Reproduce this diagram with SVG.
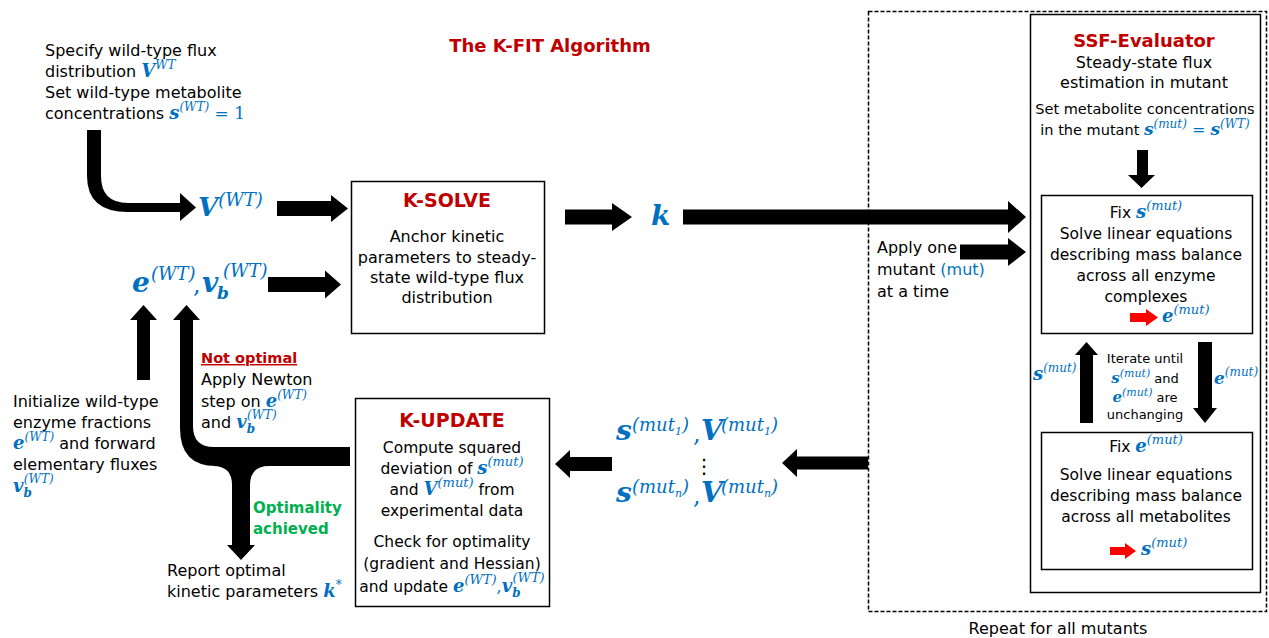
<svg xmlns="http://www.w3.org/2000/svg" width="1269" height="638" viewBox="0 0 1269 638" font-size="16">
<style>
.t{font-family:"DejaVu Sans",Verdana,sans-serif;fill:#000}
.c{text-anchor:middle}
.h{font-weight:bold;fill:#c00000}
.g{font-weight:bold;fill:#00b050}
.mb{font-family:"DejaVu Serif",serif;font-weight:bold;font-style:italic;fill:#0070c0}
.mi{font-family:"DejaVu Serif",serif;font-style:italic;font-weight:normal;fill:#0070c0}
.mr{font-family:"DejaVu Serif",serif;font-style:normal;font-weight:normal;fill:#0070c0}
.box{fill:#fff;stroke:#000;stroke-width:1.5}
.arr{fill:#000}
.red{fill:#ff0000}
</style>
<rect width="1269" height="638" fill="#fff"/>

<g id="title"><text class="t h c" x="550" y="52" font-size="18">The K-FIT Algorithm</text></g>

<g id="repeat-region">
<rect x="868.5" y="11.5" width="398" height="600" fill="none" stroke="#000" stroke-width="1.5" stroke-dasharray="4 2"/>
<text class="t c" x="1058" y="634">Repeat for all mutants</text>
</g>

<g id="ssf-evaluator">
<rect class="box" x="1030.5" y="14.5" width="230" height="578" stroke-width="2"/>
<text class="t h c" x="1144" y="47" font-size="18">SSF-Evaluator</text>
<text class="t c" x="1144" y="68">Steady-state flux</text>
<text class="t c" x="1144" y="88">estimation in mutant</text>
<text class="t c" x="1145" y="114" font-size="14.5">Set metabolite concentrations</text>
<text class="t c" x="1145" y="135" font-size="14.5">in the mutant <tspan class="mb" font-size="17">s</tspan><tspan class="mi" font-size="12" dy="-7">(mut)</tspan><tspan class="mr" font-size="16" dy="7"> = </tspan><tspan class="mb" font-size="17">s</tspan><tspan class="mi" font-size="12" dy="-7">(WT)</tspan></text>
</g>

<g id="fix-s">
<rect class="box" x="1041.5" y="195.5" width="211" height="138"/>
<text class="t c" x="1146" y="218" font-size="15.5">Fix <tspan class="mb" font-size="18">s</tspan><tspan class="mi" font-size="13" dy="-8">(mut)</tspan></text>
<text class="t c" x="1146" y="239" font-size="15.5">Solve linear equations</text>
<text class="t c" x="1146" y="260" font-size="15.5">describing mass balance</text>
<text class="t c" x="1146" y="281" font-size="15.5">across all enzyme</text>
<text class="t c" x="1146" y="302" font-size="15.5">complexes</text>
<polygon class="red" points="1130,313 1146,313 1146,309 1158,317.5 1146,326 1146,322 1130,322"/>
<text x="1162" y="322"><tspan class="mb" font-size="18">e</tspan><tspan class="mi" font-size="13" dy="-8">(mut)</tspan></text>
</g>

<g id="iterate">
<text class="t c" x="1145" y="363" font-size="13">Iterate until</text>
<text class="t c" x="1145" y="383" font-size="13"><tspan class="mb" font-size="15">s</tspan><tspan class="mi" font-size="11" dy="-6">(mut)</tspan><tspan dy="6"> and</tspan></text>
<text class="t c" x="1145" y="402" font-size="13"><tspan class="mb" font-size="15">e</tspan><tspan class="mi" font-size="11" dy="-6">(mut)</tspan><tspan dy="6"> are</tspan></text>
<text class="t c" x="1145" y="419" font-size="13">unchanging</text>
<text x="1033" y="380"><tspan class="mb" font-size="18">s</tspan><tspan class="mi" font-size="12" dy="-8">(mut)</tspan></text>
<text x="1214" y="384"><tspan class="mb" font-size="17">e</tspan><tspan class="mi" font-size="12" dy="-8">(mut)</tspan></text>
</g>

<g id="fix-e">
<rect class="box" x="1041.5" y="432.5" width="211" height="137"/>
<text class="t c" x="1146" y="452" font-size="15.5">Fix <tspan class="mb" font-size="18">e</tspan><tspan class="mi" font-size="13" dy="-8">(mut)</tspan></text>
<text class="t c" x="1146" y="480" font-size="15.5">Solve linear equations</text>
<text class="t c" x="1146" y="501" font-size="15.5">describing mass balance</text>
<text class="t c" x="1146" y="522" font-size="15.5">across all metabolites</text>
<polygon class="red" points="1110,547 1125,547 1125,543 1136,551 1125,559 1125,555 1110,555"/>
<text x="1141" y="555"><tspan class="mb" font-size="18">s</tspan><tspan class="mi" font-size="13" dy="-8">(mut)</tspan></text>
</g>

<g id="k-solve">
<rect class="box" x="351.5" y="181.5" width="193" height="152"/>
<text class="t h c" x="447" y="207" font-size="19">K-SOLVE</text>
<text class="t c" x="447" y="242">Anchor kinetic</text>
<text class="t c" x="447" y="263">parameters to steady-</text>
<text class="t c" x="447" y="283">state wild-type flux</text>
<text class="t c" x="447" y="303">distribution</text>
</g>

<g id="k-update">
<rect class="box" x="355.5" y="398.5" width="194" height="208"/>
<text class="t h c" x="452" y="427" font-size="19">K-UPDATE</text>
<text class="t c" x="452" y="453" font-size="15.5">Compute squared</text>
<text class="t c" x="452" y="474" font-size="15.5">deviation of <tspan class="mb" font-size="18">s</tspan><tspan class="mi" font-size="13" dy="-8">(mut)</tspan></text>
<text class="t c" x="452" y="495" font-size="15.5">and <tspan class="mb" font-size="18">V</tspan><tspan class="mi" font-size="13" dy="-8">(mut)</tspan><tspan dy="8"> from</tspan></text>
<text class="t c" x="452" y="516" font-size="15.5">experimental data</text>
<text class="t c" x="452" y="547" font-size="15.5">Check for optimality</text>
<text class="t c" x="452" y="569" font-size="15.5">(gradient and Hessian)</text>
<text class="t c" x="452" y="592" font-size="15.5">and update <tspan class="mb" font-size="18">e</tspan><tspan class="mi" font-size="13" dy="-8">(WT)</tspan><tspan class="mr" font-size="16" dy="8">,</tspan><tspan class="mb" font-size="18">v</tspan><tspan class="mb" font-size="12" dy="5">b</tspan><tspan class="mi" font-size="13" dx="-8" dy="-15">(WT)</tspan></text>
</g>

<g id="spec-wt">
<text class="t" x="45" y="56">Specify wild-type flux</text>
<text class="t" x="45" y="77">distribution <tspan class="mb" font-size="18">V</tspan><tspan class="mi" font-size="12" dy="-8">WT</tspan></text>
<text class="t" x="45" y="98">Set wild-type metabolite</text>
<text class="t" x="45" y="119">concentrations <tspan class="mb" font-size="18">s</tspan><tspan class="mi" font-size="12" dy="-8">(WT)</tspan><tspan class="mr" font-size="17" dy="8"> = 1</tspan></text>
</g>

<g id="v-wt">
<text x="198" y="216"><tspan class="mb" font-size="26">V</tspan><tspan class="mi" font-size="18" dy="-10">(WT)</tspan></text>
</g>

<g id="e-vb-wt">
<text class="mb" x="132" y="292" font-size="28">e</text>
<text class="mi" x="151" y="280" font-size="18">(WT)</text>
<text class="mr" x="193" y="293" font-size="24">,</text>
<text class="mb" x="202" y="292" font-size="28">v</text>
<text class="mb" x="217" y="299" font-size="17">b</text>
<text class="mi" x="223" y="277" font-size="18">(WT)</text>
</g>

<g id="k">
<text class="mb" x="651" y="225" font-size="28">k</text>
</g>

<g id="apply-mutant">
<text class="t" x="877" y="253">Apply one</text>
<text class="t" x="877" y="275">mutant <tspan fill="#0070c0">(mut)</tspan></text>
<text class="t" x="877" y="297">at a time</text>
</g>

<g id="mutant-results">
<text class="mb" x="616" y="440" font-size="28">s</text>
<text class="mi" x="632" y="431" font-size="18">(mut<tspan font-size="11" dy="4">1</tspan><tspan dy="-4">)</tspan></text>
<text class="mr" x="693" y="442" font-size="24">,</text>
<text class="mb" x="701" y="440" font-size="28">V</text>
<text class="mi" x="721" y="431" font-size="18">(mut<tspan font-size="11" dy="4">1</tspan><tspan dy="-4">)</tspan></text>
<text x="704" y="473" font-family="DejaVu Sans, sans-serif" font-size="20" text-anchor="middle">⋮</text>
<text class="mb" x="616" y="502" font-size="28">s</text>
<text class="mi" x="632" y="493" font-size="18">(mut<tspan font-size="11" dy="4">n</tspan><tspan dy="-4">)</tspan></text>
<text class="mr" x="693" y="504" font-size="24">,</text>
<text class="mb" x="701" y="502" font-size="28">V</text>
<text class="mi" x="721" y="493" font-size="18">(mut<tspan font-size="11" dy="4">n</tspan><tspan dy="-4">)</tspan></text>
</g>

<g id="init-wt">
<text class="t" x="13" y="407">Initialize wild-type</text>
<text class="t" x="13" y="428">enzyme fractions</text>
<text class="t" x="13" y="449"><tspan class="mb" font-size="18">e</tspan><tspan class="mi" font-size="12" dy="-8">(WT)</tspan><tspan dy="8"> and forward</tspan></text>
<text class="t" x="13" y="470">elementary fluxes</text>
<text class="t" x="13" y="492"><tspan class="mb" font-size="18">v</tspan><tspan class="mb" font-size="12" dy="5">b</tspan><tspan class="mi" font-size="12" dx="-8" dy="-14">(WT)</tspan></text>
</g>

<g id="not-optimal">
<text class="t h" x="201" y="363" font-size="14.5" text-decoration="underline">Not optimal</text>
<text class="t" x="201" y="385">Apply Newton</text>
<text class="t" x="201" y="407">step on <tspan class="mb" font-size="18">e</tspan><tspan class="mi" font-size="12" dy="-8">(WT)</tspan></text>
<text class="t" x="201" y="428">and <tspan class="mb" font-size="18">v</tspan><tspan class="mb" font-size="12" dy="5">b</tspan><tspan class="mi" font-size="12" dx="-8" dy="-14">(WT)</tspan></text>
</g>

<g id="optimal">
<text class="t g" x="253" y="513" font-size="15">Optimality</text>
<text class="t g" x="253" y="534" font-size="15">achieved</text>
</g>

<g id="report">
<text class="t" x="167" y="576">Report optimal</text>
<text class="t" x="167" y="597">kinetic parameters <tspan class="mb" font-size="18">k</tspan><tspan class="mr" font-size="12" dy="-8">*</tspan></text>
</g>

<g id="connectors">
<path class="arr" d="M87,130 H101 V176 Q101,203 128,203 H180 V193 L196,207.5 L180,221 V212 H128 Q87,212 87,176 Z"/>
<polygon class="arr" points="277,201 331,201 331,195 348,208.5 331,222 331,216 277,216"/>
<polygon class="arr" points="268,277 325,277 325,270.5 341,284.5 325,298.5 325,292 268,292"/>
<polygon class="arr" points="565,209.5 612,209.5 612,203 632,217 612,231 612,224.5 565,224.5"/>
<polygon class="arr" points="683,209.5 1008,209.5 1008,201 1026,217 1008,233 1008,224.5 683,224.5"/>
<polygon class="arr" points="960,244.5 1008,244.5 1008,238 1026,252 1008,266 1008,259.5 960,259.5"/>
<polygon class="arr" points="1137,150 1148,150 1148,175 1155,175 1141.5,188 1128,175 1137,175"/>
<polygon class="arr" points="1080,423 1080,355 1075,355 1086.5,342 1098,355 1093,355 1093,423"/>
<polygon class="arr" points="1198,342 1212,342 1212,408 1217,408 1205,423 1193,408 1198,408"/>
<polygon class="arr" points="868,456.5 797,456.5 797,449 782,463 797,477 797,469.5 868,469.5"/>
<polygon class="arr" points="612,457 570,457 570,450 555,464 570,478 570,471 612,471"/>
<polygon class="arr" points="137,380 137,320 130,320 143.5,305 157,320 150,320 150,380"/>
<path class="arr" d="M350,447 H214 Q193,447 193,426 V320 H200 L186.5,305 L173,320 H180 V428 Q180,466 216,466 H350 Z"/>
<path class="arr" d="M213,466 Q232,466 232,485 V545 H227 L241,560 L255,545 H250 V485 Q250,466 269,466 Z"/>
</g>
</svg>
